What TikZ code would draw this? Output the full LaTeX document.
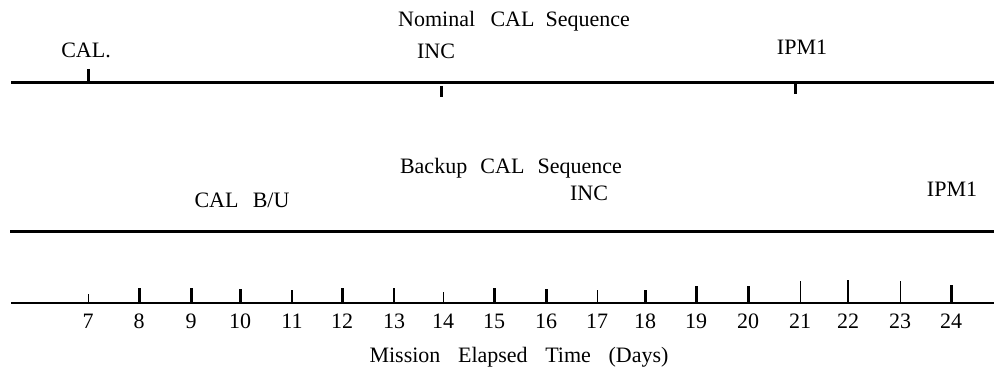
\documentclass[tikz,border=0pt]{standalone}
\usepackage{fontspec}
\setmainfont{Liberation Serif}
\begin{document}
\begin{tikzpicture}[x=1pt,y=-1pt,
  lbl/.style={anchor=base,inner sep=0pt,font=\fontsize{22}{26}\selectfont},
  numlbl/.style={anchor=base,inner sep=0pt,font=\fontsize{22}{26}\selectfont},
  mainline/.style={line width=3pt},
  axisline/.style={line width=2.5pt},
  thick tick/.style={line width=3pt}]
\useasboundingbox (0,0) rectangle (994,369);
% --- Nominal sequence
\node[lbl] (nomtitle) at (514,27) {Nominal\hspace{0.7em}CAL\hspace{0.5em}Sequence};
\node[lbl] (cal) at (86,58) {CAL.};
\node[lbl] (inc1) at (436,59) {INC};
\node[lbl] (ipm1a) at (802,55) {IPM1};
\coordinate (n1) at (11,83);
\coordinate (n2) at (994,83);
\draw[mainline] (n1) -- (n2);
\draw[thick tick] (88,69) -- (88,83);
\draw[thick tick] (441,86) -- (441,97);
\draw[thick tick] (795,84) -- (795,94);
% --- Backup sequence
\node[lbl] (bktitle) at (511,173) {Backup\hspace{0.6em}CAL\hspace{0.6em}Sequence};
\node[lbl] (calbu) at (242,207) {CAL\hspace{0.65em}B/U};
\node[lbl] (inc2) at (589,200) {INC};
\node[lbl] (ipm1b) at (952,196) {IPM1};
\coordinate (b1) at (10,231);
\coordinate (b2) at (994,231);
\draw[mainline] (b1) -- (b2);
% --- Time axis
\coordinate (a1) at (11,303);
\coordinate (a2) at (994,303);
\draw[axisline] (a1) -- (a2);
\foreach \d/\x/\t/\w in {7/88/294/0.9,8/139/288/3,9/191/288/3,10/240/289/3,11/292/290/2.5,12/342/288/3,13/394/288/2.5,14/443/292/0.9,15/494/288/3,16/546/289/3,17/597/290/0.9,18/645/290/3,19/696/286/3,20/748/286/3,21/800/281/1,22/848/280/1.3,23/900/281/1,24/951/285/3}{
  \draw[line width=\w pt] (\x,\t) -- (\x,303);
  \node[numlbl] (t\d) at (\x,328) {\d};
}
\node[lbl] (axtitle) at (519,362) {Mission\hspace{0.8em}Elapsed\hspace{0.8em}Time\hspace{0.8em}(Days)};
\end{tikzpicture}
\end{document}
